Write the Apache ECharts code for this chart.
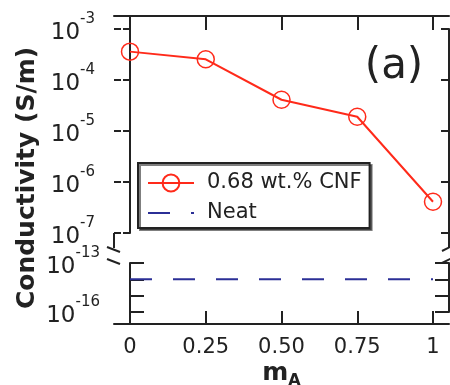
<!DOCTYPE html>
<html>
<head>
<meta charset="utf-8">
<script src="https://cdn.jsdelivr.net/npm/echarts@6/dist/echarts.min.js"></script>
<style>
  html, body { margin: 0; padding: 0; background: #fff; }
  #chart { width: 450px; height: 385px; }
</style>
</head>
<body>
<div id="chart"></div>
<script>
// m_A values (x)
const massFraction = [0, 0.25, 0.5, 0.75, 1];
const xTickValues = [0, 0.25, 0.5, 0.75, 1];
const xTickLabels = ['0', '0.25', '0.50', '0.75', '1'];

// conductivity (S/m)
const cnfConductivity = [3.6e-4, 2.55e-4, 4.1e-5, 1.9e-5, 4.1e-7];
const neatConductivity = [1e-14, 1e-14, 1e-14, 1e-14, 1e-14];

const seriesNames = ['0.68 wt.% CNF', 'Neat'];
const panelLabel = '(a)';

const AXIS = '#222';
const RED = '#ff2a1a';
const NAVY = '#2b2f96';
const FONT = 'DejaVu Sans';

const chart = echarts.init(document.getElementById('chart'));

const expLabel = (v) => {
  const e = Math.round(Math.log10(v));
  return '{b|10}{s|' + e + '}';
};
// "10" sits a bit below the tick, exponent raised
const expRich = {
  b: { fontSize: 23, fontFamily: FONT, color: AXIS, padding: [8, 0, 0, 0] },
  s: { fontSize: 15, fontFamily: FONT, color: AXIS, verticalAlign: 'bottom', padding: [0, 0, 20, 0] }
};

const xBase = {
  type: 'value',
  min: -0.0528,
  max: 1.0528,
  splitLine: { show: false },
  axisLine: { lineStyle: { color: AXIS, width: 2 } }
};

const yTop = { type: 'log', logBase: 10, min: 1e-7, max: 1e-3, gridIndex: 0, splitLine: { show: false } };
const yBot = { type: 'log', logBase: 10, min: 1e-16, max: 1e-13, gridIndex: 1, splitLine: { show: false } };

const option = {
  animation: false,
  backgroundColor: '#fff',
  grid: [
    { left: 114, right: 1, top: 29, height: 204, outerBoundsMode: 'none' },
    { left: 114, right: 1, top: 263, height: 49, outerBoundsMode: 'none' }
  ],
  xAxis: [
    Object.assign({}, xBase, {
      gridIndex: 0,
      position: 'top',
      offset: 13,
      axisTick: { inside: true, length: 14, customValues: xTickValues, lineStyle: { color: AXIS, width: 2 } },
      axisLabel: { show: false }
    }),
    Object.assign({}, xBase, {
      gridIndex: 1,
      position: 'bottom',
      offset: 12,
      axisTick: { inside: true, length: 13, customValues: xTickValues, lineStyle: { color: AXIS, width: 2 } },
      axisLabel: {
        customValues: xTickValues,
        formatter: (v) => xTickLabels[xTickValues.indexOf(v)],
        fontSize: 21, fontFamily: FONT, color: AXIS, margin: 13
      },
      name: '{m|m}{a|A}',
      nameLocation: 'middle',
      nameGap: 33,
      nameTextStyle: {
        rich: {
          m: { fontSize: 25, fontWeight: 'bold', fontFamily: FONT, color: AXIS },
          a: { fontSize: 16, fontWeight: 'bold', fontFamily: FONT, color: AXIS, verticalAlign: 'top', padding: [16, 0, 0, 0] }
        }
      }
    })
  ],
  yAxis: [
    Object.assign({}, yTop, {
      position: 'left',
      axisLine: { lineStyle: { color: AXIS, width: 2 } },
      axisTick: { inside: false, length: 7, lineStyle: { color: AXIS, width: 2 } },
      axisLabel: { formatter: expLabel, rich: expRich, margin: 19 }
    }),
    Object.assign({}, yTop, {
      position: 'left',
      axisLine: { show: false },
      axisTick: { inside: true, length: 7, lineStyle: { color: AXIS, width: 2 } },
      axisLabel: { show: false }
    }),
    Object.assign({}, yTop, {
      position: 'right',
      axisLine: { lineStyle: { color: AXIS, width: 2 } },
      axisTick: { inside: true, length: 8, lineStyle: { color: AXIS, width: 2 } },
      axisLabel: { show: false }
    }),
    Object.assign({}, yBot, {
      position: 'left',
      axisLine: { lineStyle: { color: AXIS, width: 2 } },
      axisTick: { inside: true, length: 14, lineStyle: { color: AXIS, width: 2 } },
      axisLabel: {
        formatter: (v) => {
          const e = Math.round(Math.log10(v));
          return (e === -13 || e === -16) ? expLabel(v) : '';
        },
        rich: expRich, margin: 14
      }
    }),
    Object.assign({}, yBot, {
      position: 'right',
      axisLine: { lineStyle: { color: AXIS, width: 2 } },
      axisTick: { inside: true, length: 14, lineStyle: { color: AXIS, width: 2 } },
      axisLabel: { show: false }
    })
  ],
  legend: {
    left: 138,
    top: 163,
    orient: 'vertical',
    data: [
      { name: seriesNames[0] },
      { name: seriesNames[1], itemStyle: { color: 'transparent', borderColor: 'transparent', borderWidth: 0, opacity: 0 } }
    ],
    itemWidth: 46,
    itemHeight: 21,
    itemGap: 6,
    padding: [8, 8, 3, 9],
    borderColor: AXIS,
    borderWidth: 2,
    backgroundColor: '#fff',
    shadowColor: 'rgba(0,0,0,0.5)',
    shadowBlur: 0,
    shadowOffsetX: 2,
    shadowOffsetY: 2,
    textStyle: { fontSize: 21, fontFamily: FONT, color: AXIS, lineHeight: 24, padding: [0, 0, 0, 8] }
  },
  series: [
    {
      name: seriesNames[0],
      type: 'line',
      xAxisIndex: 0,
      yAxisIndex: 0,
      data: massFraction.map((x, i) => [x, cnfConductivity[i]]),
      symbol: 'circle',
      symbolSize: 17,
      lineStyle: { color: RED, width: 2 },
      itemStyle: { color: 'transparent', borderColor: RED, borderWidth: 1.5 },
      z: 3
    },
    {
      name: seriesNames[1],
      type: 'line',
      xAxisIndex: 1,
      yAxisIndex: 3,
      data: massFraction.map((x, i) => [x, neatConductivity[i]]),
      symbol: 'none',
      lineStyle: { color: NAVY, width: 2, type: [22, 21] },
      itemStyle: { color: NAVY }
    }
  ],
  graphic: [
    // axis extensions and break marks
    { type: 'line', shape: { x1: 114, y1: 233, x2: 114, y2: 248 }, style: { stroke: AXIS, lineWidth: 2 } },
    { type: 'line', shape: { x1: 107, y1: 247, x2: 120, y2: 252 }, style: { stroke: AXIS, lineWidth: 2 } },
    { type: 'line', shape: { x1: 107, y1: 259, x2: 120, y2: 264 }, style: { stroke: AXIS, lineWidth: 2 } },
    { type: 'line', shape: { x1: 449, y1: 233, x2: 449, y2: 248 }, style: { stroke: AXIS, lineWidth: 2 } },
    { type: 'line', shape: { x1: 442, y1: 251, x2: 452, y2: 246 }, style: { stroke: AXIS, lineWidth: 2 } },
    { type: 'line', shape: { x1: 442, y1: 263, x2: 452, y2: 258 }, style: { stroke: AXIS, lineWidth: 2 } },
    {
      type: 'text', x: 27, y: 178, rotation: Math.PI / 2,
      style: {
        text: 'Conductivity (S/m)', fontSize: 25, fontWeight: 'bold', fontFamily: FONT,
        fill: AXIS, align: 'center', verticalAlign: 'middle'
      }
    },
    {
      type: 'text', x: 394, y: 67,
      style: {
        text: panelLabel, fontSize: 42, fontFamily: FONT,
        fill: AXIS, align: 'center', verticalAlign: 'middle'
      }
    }
  ]
};

chart.setOption(option);
</script>
</body>
</html>
